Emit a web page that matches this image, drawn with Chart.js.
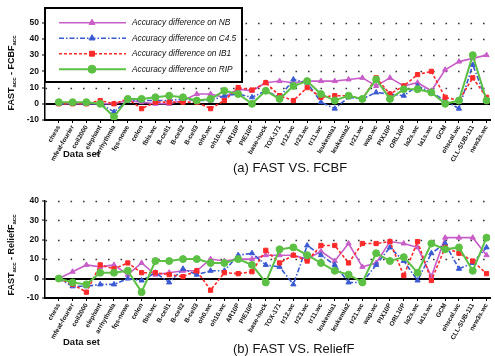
<!DOCTYPE html>
<html><head><meta charset="utf-8">
<script src="https://cdn.jsdelivr.net/npm/chart.js@4/dist/chart.umd.min.js"></script>
<style>
html,body{margin:0;padding:0;background:#fff;}
#wrap{width:495px;height:356px;position:relative;}
.c{position:absolute;left:0;width:495px;height:178px;}
canvas{display:block;}
</style></head><body>
<div id="wrap">
<div class="c" style="top:0"><canvas id="ca"></canvas></div>
<div class="c" style="top:178px"><canvas id="cb"></canvas></div>
</div>
<script>
// ---------- data ----------
const dataSets = ["chess","mfeat-fourier","coil2000","elephant","arrhythmia","fqs-nowe","colon","fbis.wc",
  "B-cell1","B-cell2","B-cell3","oh0.wc","oh10.wc","AR10P","PIE10P","base-hock","TOX-171","tr12.wc",
  "tr23.wc","tr11.wc","leukemia1","leukemia2","tr21.wc","wap.wc","PIX10P","ORL10P","la2s.wc","la1s.wc",
  "GCM","ohscal.wc","CLL-SUB-111","new3s.wc"];
const seriesNames = ["Accuracy difference on NB","Accuracy difference on C4.5","Accuracy difference on IB1","Accuracy difference on RIP"];

// FAST vs FCBF
const fcbfNB  = [0,0,0,0,0,2,1,0,0,2,6,6,4,9,8,13,14,13,14,14,14,15,16,11,16,11,13,8,21,26,28,30];
const fcbfC45 = [0,0,0,0,-5,2,2,2,2,3,2,2,5,6,4,8,4,15,13,1,-3,4,3,7,6,5,11,7,2,-3,24,2];
const fcbfIB1 = [0,0,0,2,0,3,-3,1,1,1,1,-3,2,10,8.5,13,5,2,10,4,5,5,3,16,6,11,18,20,4,2,16,4];
const fcbfRIP = [1,1,1,0,-8,3,3,4,5,4,2,3,8,6,0,8,3,11,14,6,2,5,3,15,3,9,9,7,0,2,30,2];

// FAST vs ReliefF
const relNB  = [0,3.5,7,6,7,2,8,2,3,4,4,10,9,10,10,12,12,12,10,14,9,18,6,8,19,18,16,1,21,21,21,12];
const relC45 = [0,-4,-4,-3,-3,0,-1,3,-2,5,2,4,4,12,13,7,6,-3,17,12,7,-2,-2,7,16,9,-1,13,18,5,8,16];
const relIB1 = [0,-3,-7,7,5,8,3,3,2,1,4,-6,3,2.5,3.5,14.5,8,12,9,17,17,8,18,18,19,1.5,19,-1,16,13,9,2.5];
const relRIP = [0,-2,-3,3,3,4,-7,9,9,10,10,8,8,10,7,-2,15,16,12,8,4,2,-2,13,9,11,3,18,15,16,4,21];

const yTicksA = [-10,0,10,20,30,40,50];
const yTicksB = [-10,0,10,20,30,40];

// ---------- styles ----------
const styles = [
  {color:'#c85ec8', dash:[], pointStyle:'triangle', radius:3, width:1.6, order:3},
  {color:'#3a5ad2', dash:[5,2,1.5,2], pointStyle:'triangle', radius:3, width:1.6, order:2},
  {color:'#ff2a2a', dash:[3,2], pointStyle:'rect', radius:3, width:1.6, order:1},
  {color:'#5cc044', dash:[], pointStyle:'circle', radius:3.5, width:2, order:0}
];

function mkDatasets(arrs){
  return arrs.map((a,k)=>({
    label: seriesNames[k],
    data: a.map((v,i)=>({x:i,y:v})),
    borderColor: styles[k].color,
    backgroundColor: styles[k].color,
    borderDash: styles[k].dash,
    borderWidth: styles[k].width,
    pointStyle: styles[k].pointStyle,
    pointRadius: styles[k].radius,
    pointBorderWidth: 1,
    tension: 0,
    order: styles[k].order
  }));
}

const FONT = "'Liberation Sans', Arial, sans-serif";

function dotGrid(){
  return {
    id:'dotGrid',
    beforeDatasetsDraw(chart){
      const {ctx, chartArea:ca, scales:{y}} = chart;
      ctx.save();
      ctx.strokeStyle = '#333';
      ctx.lineWidth = 1.6;
      ctx.setLineDash([1.6, 10.9]);
      y.ticks.forEach(t=>{
        if (t.value <= 0) return;
        const py = Math.round(y.getPixelForValue(t.value)) + 0.5;
        ctx.beginPath();
        ctx.lineDashOffset = -13;
        ctx.moveTo(ca.left, py);
        ctx.lineTo(ca.right, py);
        ctx.stroke();
      });
      ctx.restore();
    }
  };
}

function textDeco(opts){
  return {
    id:'textDeco',
    afterDraw(chart){
      const ctx = chart.ctx;
      ctx.save();
      // y title with subscripts, vertical
      const parts = [['FAST','b'],['acc','s'],[' - '+opts.other,'b'],['acc','s']];
      const fb = "bold 9px "+FONT, fs = "bold 6px "+FONT;
      let tot = 0;
      parts.forEach(p=>{ ctx.font = p[1]==='b'?fb:fs; tot += ctx.measureText(p[0]).width; });
      ctx.translate(opts.titleX, opts.titleY);
      ctx.rotate(-Math.PI/2);
      ctx.fillStyle = '#111';
      ctx.textBaseline = 'alphabetic';
      let x = -tot/2;
      parts.forEach(p=>{
        ctx.font = p[1]==='b'?fb:fs;
        ctx.fillText(p[0], x, p[1]==='b'?3:5);
        x += ctx.measureText(p[0]).width;
      });
      ctx.restore();
      ctx.save();
      ctx.fillStyle = '#111';
      ctx.textBaseline = 'middle';
      ctx.font = "bold 9.5px "+FONT;
      ctx.fillText('Data set', 63, opts.dsY);
      ctx.font = "13px "+FONT;
      ctx.fillText(opts.caption, 233, opts.capY);
      ctx.restore();
    }
  };
}

const legendBox = {
  id:'legendBox',
  afterDraw(chart){
    const ctx = chart.ctx;
    ctx.save();
    ctx.fillStyle = '#fff';
    ctx.fillRect(45, 8, 197, 74);
    ctx.strokeStyle = '#000';
    ctx.lineWidth = 2;
    ctx.strokeRect(45, 8, 197, 74);
    chart.data.datasets.forEach((ds,k)=>{
      const y = 22.7 + 15.5*k;
      ctx.strokeStyle = ds.borderColor;
      ctx.fillStyle = ds.backgroundColor;
      ctx.lineWidth = ds.borderWidth;
      ctx.setLineDash(ds.borderDash);
      ctx.beginPath(); ctx.moveTo(59, y); ctx.lineTo(126, y); ctx.stroke();
      ctx.setLineDash([]);
      ctx.lineWidth = 1;
      Chart.helpers.drawPoint(ctx, {pointStyle: ds.pointStyle, radius: ds.pointRadius+0.5, rotation:0, borderWidth:1}, 92, y);
      ctx.fillStyle = '#111';
      ctx.font = "italic 8.3px "+FONT;
      ctx.textBaseline = 'middle';
      ctx.fillText(ds.label, 132, y);
    });
    ctx.restore();
  }
};

function mkChart(id, arrs, ymax, yTicks, deco, extraPlugins){
  return new Chart(document.getElementById(id), {
    type:'line',
    data:{datasets: mkDatasets(arrs)},
    options:{
      responsive:true, maintainAspectRatio:false, animation:false, devicePixelRatio:1,
      layout:{padding:{top:22.7, bottom:0, left:0, right:0}},
      plugins:{legend:{display:false}, tooltip:{enabled:false}},
      scales:{
        x:{
          type:'linear', min:-1, max:31.25,
          afterBuildTicks: s => { s.ticks = dataSets.map((_,i)=>({value:i})); },
          afterFit: s => { s.height = 58; },
          ticks:{autoSkip:false, minRotation:60, maxRotation:60, padding:1,
                 color:'#111', font:{size:6.5, weight:'bold', family:FONT},
                 callback: v => dataSets[v] || ''},
          grid:{drawOnChartArea:false, tickLength:3, tickColor:'#000', tickWidth:1},
          border:{color:'#000', width:2}
        },
        y:{
          min:-10, max:ymax,
          afterBuildTicks: s => { s.ticks = yTicks.map(v=>({value:v})); },
          afterFit: s => { s.width = 45; },
          ticks:{color:'#111', padding:3, font:{size:8.5, weight:'bold', family:FONT}},
          grid:{color: c => (c.tick && c.tick.value===0) ? '#000' : 'rgba(0,0,0,0)', lineWidth:2,
                tickColor:'#000', tickLength:3, tickWidth:1},
          border:{color:'#000', width:1.5}
        }
      }
    },
    plugins:[dotGrid(), textDeco(deco)].concat(extraPlugins)
  });
}

mkChart('ca', [fcbfNB,fcbfC45,fcbfIB1,fcbfRIP], 50, yTicksA,
  {other:'FCBF', titleX:11, titleY:73, dsY:154, capY:168, caption:'(a) FAST VS. FCBF'}, [legendBox]);
mkChart('cb', [relNB,relC45,relIB1,relRIP], 40, yTicksB,
  {other:'ReliefF', titleX:11, titleY:77, dsY:164, capY:171, caption:'(b) FAST VS. ReliefF'}, []);
</script>
</body></html>
